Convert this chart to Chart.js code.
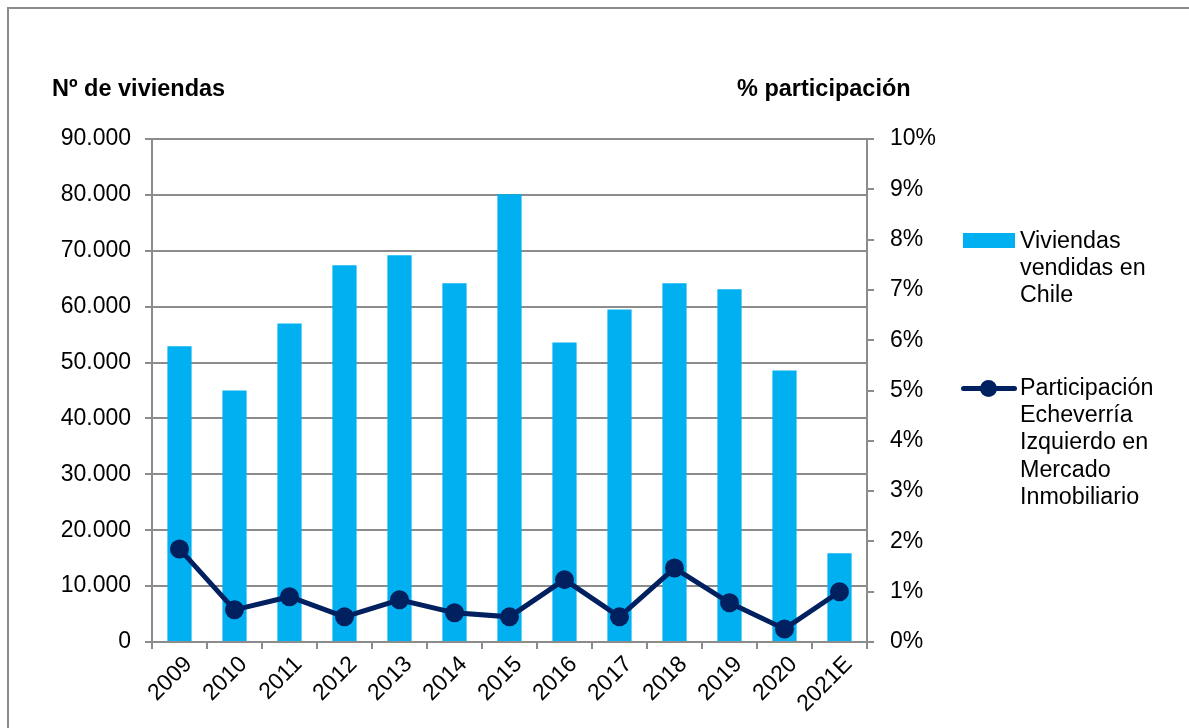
<!DOCTYPE html>
<html>
<head>
<meta charset="utf-8">
<script src="https://cdn.jsdelivr.net/npm/chart.js@4.4.1/dist/chart.umd.min.js"></script>
<style>
  html, body { margin: 0; padding: 0; background: #fff; overflow: hidden; }
  body { width: 1189px; height: 728px; position: relative; font-family: "Liberation Sans", Arial, sans-serif; }
  #frame { position: absolute; left: 7px; top: 7px; width: 1300px; height: 900px; border: 2px solid #8c8c8c; box-sizing: border-box; }
  #chart { position: absolute; left: 0; top: 0; }
  .axis-title { position: absolute; font-weight: bold; font-size: 23.5px; line-height: 24px; color: #000; white-space: nowrap; }
  .legend-item { position: absolute; left: 961px; }
  .legend-text { position: absolute; left: 59px; font-size: 23.3px; line-height: 27.2px; color: #000; white-space: nowrap; }
  .swatch-bar { position: absolute; left: 2px; width: 52px; height: 15px; background: #00B0F0; }
  .swatch-line { position: absolute; left: 0; width: 56px; height: 5px; background: #002060; border-radius: 3px; }
  .swatch-dot { position: absolute; left: 19px; width: 17px; height: 17px; border-radius: 50%; background: #002060; }
</style>
</head>
<body>
<div id="frame"></div>
<canvas id="chart" width="1189" height="728"></canvas>

<div class="axis-title" style="left:52px; top:76px;">Nº de viviendas</div>
<div class="axis-title" style="left:737px; top:76px;">% participación</div>

<div class="legend-item" style="top:227px;">
  <div class="swatch-bar" style="top:6px;"></div>
  <div class="legend-text" style="top:0;">Viviendas<br>vendidas en<br>Chile</div>
</div>
<div class="legend-item" style="top:374px;">
  <div class="swatch-line" style="top:12px;"></div>
  <div class="swatch-dot" style="top:6px;"></div>
  <div class="legend-text" style="top:0;">Participación<br>Echeverría<br>Izquierdo en<br>Mercado<br>Inmobiliario</div>
</div>

<script>
// Data
const years = ['2009', '2010', '2011', '2012', '2013', '2014', '2015', '2016', '2017', '2018', '2019', '2020', '2021E'];
const viviendas = [52900, 45000, 57000, 67400, 69200, 64200, 80100, 53600, 59500, 64200, 63100, 48600, 15900];
const participacion = [1.85, 0.64, 0.90, 0.50, 0.84, 0.58, 0.50, 1.24, 0.50, 1.47, 0.78, 0.26, 1.00];

const gridColor = '#8c8c8c';
const tickFont = { family: '"Liberation Sans", Arial, sans-serif', size: 23 };

function fmtThousands(v) {
    return String(v).replace(/\B(?=(\d{3})+(?!\d))/g, '.');
}

const ctx = document.getElementById('chart').getContext('2d');

new Chart(ctx, {
    type: 'bar',
    data: {
        labels: years,
        datasets: [
            {
                type: 'line',
                label: 'Participación Echeverría Izquierdo en Mercado Inmobiliario',
                data: participacion,
                yAxisID: 'y1',
                borderColor: '#002060',
                backgroundColor: '#002060',
                borderWidth: 5,
                pointRadius: 9.5,
                pointBorderWidth: 0,
                pointBackgroundColor: '#002060',
                tension: 0,
                clip: false
            },
            {
                label: 'Viviendas vendidas en Chile',
                data: viviendas,
                yAxisID: 'y',
                backgroundColor: '#00B0F0',
                barPercentage: 0.44,
                categoryPercentage: 1.0
            }
        ]
    },
    options: {
        responsive: false,
        animation: false,
        layout: { padding: { top: 139, left: 0, right: 0, bottom: 0 } },
        plugins: {
            legend: { display: false },
            tooltip: { enabled: false }
        },
        scales: {
            x: {
                grid: { offset: true, drawOnChartArea: false, tickLength: 7, color: gridColor, lineWidth: 2 },
                border: { color: gridColor, width: 2 },
                ticks: { minRotation: 45, maxRotation: 45, autoSkip: false, color: '#000', font: tickFont, padding: 2, labelOffset: 9 },
                afterFit: (s) => { s.height = 86; }
            },
            y: {
                position: 'left',
                min: 0,
                max: 90000,
                ticks: { stepSize: 10000, color: '#000', font: tickFont, padding: 14, callback: (v) => fmtThousands(v) },
                grid: { color: gridColor, lineWidth: 2, tickLength: 7 },
                border: { color: gridColor, width: 2 },
                afterFit: (s) => { s.width = 152; }
            },
            y1: {
                position: 'right',
                min: 0,
                max: 10,
                ticks: { stepSize: 1, color: '#000', font: tickFont, padding: 16, callback: (v) => v + '%' },
                grid: { drawOnChartArea: false, color: gridColor, lineWidth: 2, tickLength: 7 },
                border: { color: gridColor, width: 2 },
                afterFit: (s) => { s.width = 1189 - 867; }
            }
        }
    }
});
</script>
</body>
</html>
